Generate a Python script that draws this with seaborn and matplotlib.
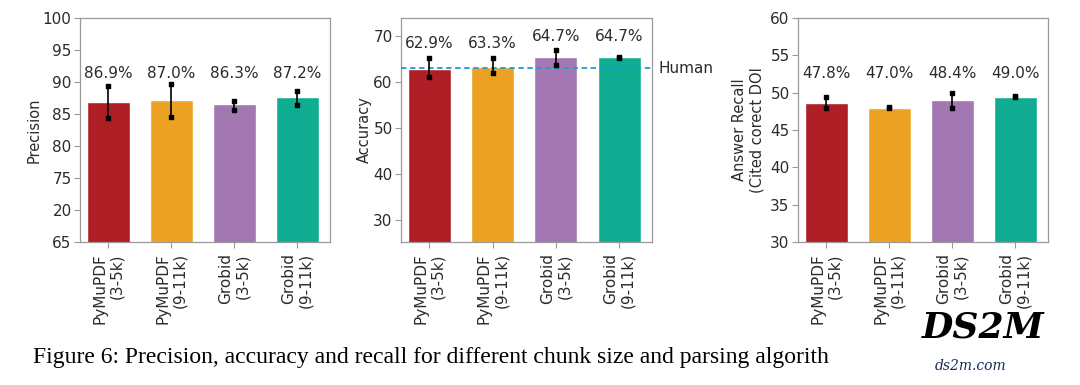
import numpy as np
import pandas as pd
import matplotlib
matplotlib.use("Agg")
import matplotlib.pyplot as plt
import seaborn as sns

# data
methods = ['PyMuPDF\n(3-5k)', 'PyMuPDF\n(9-11k)', 'Grobid\n(3-5k)', 'Grobid\n(9-11k)']
colors = ['#AF1D25', '#EDA122', '#A277B2', '#11AD92']

precision = [86.8, 87.2, 86.5, 87.6]
precision_lo = [84.3, 84.6, 85.7, 86.4]
precision_hi = [89.4, 89.7, 87.1, 88.6]
precision_labels = ['86.9%', '87.0%', '86.3%', '87.2%']

accuracy = [62.8, 63.3, 65.4, 65.4]
accuracy_lo = [61.0, 61.9, 63.7, 65.3]
accuracy_hi = [65.2, 65.1, 67.0, 65.5]
accuracy_labels = ['62.9%', '63.3%', '64.7%', '64.7%']
human_accuracy = 63.0

recall = [48.65, 48.0, 49.0, 49.45]
recall_lo = [48.0, 47.95, 48.0, 49.4]
recall_hi = [49.4, 48.05, 50.0, 49.5]
recall_labels = ['47.8%', '47.0%', '48.4%', '49.0%']

sns.set_style("white")
plt.rcParams['font.family'] = ['DejaVu Sans']

fig = plt.figure(figsize=(10.8, 3.85), dpi=100)

spine_c = '#9a9a9a'
text_c = '#2b2b2b'


def panel(rect, vals, lo, hi, labels, ylim, ticks, ticklabels, ylabel, lab_base, lab_gap):
    ax = fig.add_axes(rect)
    df = pd.DataFrame({'method': methods, 'value': vals})
    sns.barplot(data=df, x='method', y='value', hue='method', palette=colors,
                legend=False, width=0.68, saturation=1, ax=ax)
    x = np.arange(len(methods))
    ax.vlines(x, lo, hi, color='black', lw=1.2, zorder=5)
    ax.scatter(x, lo, marker='s', s=8, color='black', zorder=6)
    ax.scatter(x, hi, marker='s', s=8, color='black', zorder=6)
    for xi, v, lab in zip(x, vals, labels):
        ax.text(xi, max(lab_base, v + lab_gap), lab, ha='center', va='center',
                fontsize=11, color=text_c)
    ax.set_ylim(*ylim)
    ax.set_xlim(-0.45, 3.52)
    ax.set_yticks(ticks)
    ax.set_yticklabels(ticklabels, fontsize=11, color=text_c)
    ax.set_xticks(x)
    ax.set_xticklabels(methods, rotation=90, fontsize=11, color=text_c,
                       multialignment='right', va='top')
    ax.set_xlabel('')
    ax.set_ylabel(ylabel, fontsize=10.5, color=text_c, labelpad=1)
    for s in ax.spines.values():
        s.set_color(spine_c)
        s.set_linewidth(0.9)
    ax.tick_params(axis='both', length=4, width=0.8, color=spine_c, pad=2)
    ax.tick_params(axis='x', pad=4)
    ax.tick_params(axis='both', which='both', direction='out', left=True, bottom=True)
    return ax


bottom, height = 1 - 242 / 385, 224 / 385

panel([80 / 1080, bottom, 250 / 1080, height], precision, precision_lo, precision_hi,
      precision_labels, (65, 100), [65, 70, 75, 80, 85, 90, 95, 100],
      ['65', '20', '75', '80', '85', '90', '95', '100'], 'Precision', 91.4, 3)

ax2 = panel([401 / 1080, bottom, 251 / 1080, height], accuracy, accuracy_lo, accuracy_hi,
            accuracy_labels, (25.2, 73.9), [30, 40, 50, 60, 70],
            ['30', '40', '50', '60', '70'], 'Accuracy', 68.3, 4.4)
ax2.axhline(human_accuracy, color='#1E9FC4', lw=1.3, ls=(0, (3, 2)), zorder=4)
ax2.text(1.025, human_accuracy, 'Human', transform=ax2.get_yaxis_transform(),
         ha='left', va='center', fontsize=11, color=text_c)

ax3 = panel([798 / 1080, bottom, 250 / 1080, height], recall, recall_lo, recall_hi,
            recall_labels, (30, 60), [30, 35, 40, 45, 50, 55, 60],
            ['30', '35', '40', '45', '50', '55', '60'], 'Answer Recall\n(Cited corect DOI', 52.5, 3)
ax3.yaxis.labelpad = 4

fig.text(33 / 1080, 1 - 357 / 385,
         'Figure 6: Precision, accuracy and recall for different chunk size and parsing algorith',
         family='Liberation Serif', fontsize=17, color='black', ha='left', va='center')

# watermark
fig.text(922 / 1080, 1 - 327 / 385, 'DS2M', family='DejaVu Serif', fontsize=26,
         fontweight='bold', style='italic', color='black', ha='left', va='center')
fig.text(935 / 1080, 1 - 366 / 385, 'ds2m.com', family='DejaVu Serif', fontsize=10,
         style='italic', color='#1a2a5a', ha='left', va='center')

fig.savefig('out.png', dpi=100)
